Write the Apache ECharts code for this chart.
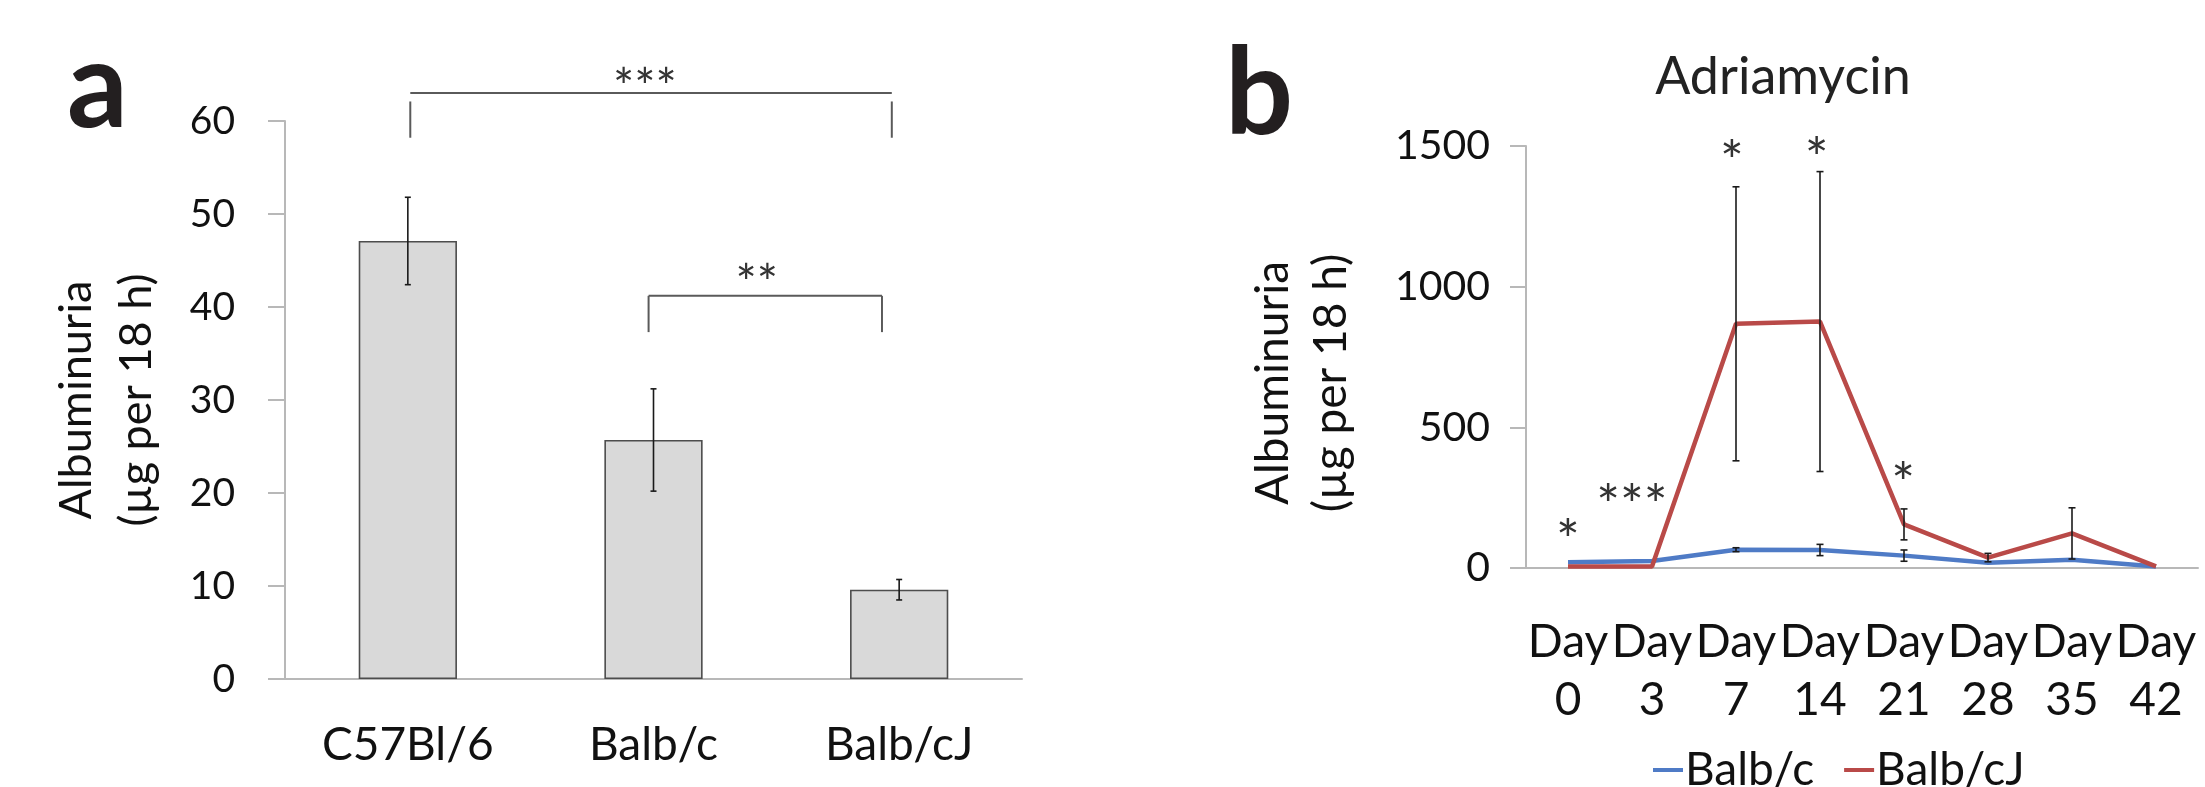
<!DOCTYPE html>
<html>
<head>
<meta charset="utf-8">
<script src="https://cdn.jsdelivr.net/npm/echarts@6/dist/echarts.min.js"></script>
<style>
  html, body { margin: 0; padding: 0; background: #fff; }
  #chart { width: 2205px; height: 787px; }
</style>
</head>
<body>
<div id="chart"></div>
<script>
// panel a: baseline albuminuria per strain
const strains = ['C57Bl/6', 'Balb/c', 'Balb/cJ'];
const strainMeans = [47.1, 25.7, 9.6];
const strainErrors = [4.7, 5.5, 1.1];

// significance brackets for panel a (category index, value)
const bracketFrom = [0.01, 0.98];
const bracketTo = [1.97, 1.93];
const bracketLevel = [63.0, 41.2];
const bracketLegTop = [62.1, 41.2];
const bracketLegBottom = [58.2, 37.3];
const bracketText = ['***', '**'];
const bracketTextX = [0.965, 1.42];
const bracketTextY = [64.9, 43.8];

// panel b: adriamycin time course
const days = ['Day\n0', 'Day\n3', 'Day\n7', 'Day\n14', 'Day\n21', 'Day\n28', 'Day\n35', 'Day\n42'];
const balbC = [20, 25, 65, 64, 44, 19, 29, 5];
const balbCErr = [0, 0, 7, 20, 20, 0, 0, 0];
const balbCJ = [5, 5, 868, 876, 155, 37, 123, 6];
const balbCJErr = [0, 0, 487, 533, 55, 15, 91, 0];

// asterisks for panel b (category index, value)
const starX = [0, 0.76, 1.95, 2.96, 3.99];
const starY = [147, 271, 1494, 1503, 349];
const starText = ['*', '***', '*', '*', '*'];

const FONT = 'Lato';
const chart = echarts.init(document.getElementById('chart'));

// pixel x for a fractional category index
const catX = (api, xv) => {
  const base = Math.floor(xv);
  return api.coord([base, 0])[0] + (xv - base) * api.size([1, 0])[0];
};

const errorBars = (means, errs, capHalf) => (params, api) => {
  const i = params.dataIndex;
  const e = errs[i];
  if (!e) return;
  const top = api.coord([i, means[i] + e]);
  const bot = api.coord([i, means[i] - e]);
  const st = { stroke: '#1a1a1a', lineWidth: 1.6 };
  return {
    type: 'group',
    children: [
      { type: 'line', shape: { x1: top[0], y1: top[1], x2: bot[0], y2: bot[1] }, style: st },
      { type: 'line', shape: { x1: top[0] - capHalf, y1: top[1], x2: top[0] + capHalf, y2: top[1] }, style: st },
      { type: 'line', shape: { x1: bot[0] - capHalf, y1: bot[1], x2: bot[0] + capHalf, y2: bot[1] }, style: st }
    ]
  };
};

const starLabel = (text, x, y, size) => ({
  type: 'text',
  x: x,
  y: y,
  style: { text: text, fill: '#333', font: size + 'px ' + FONT, align: 'center', verticalAlign: 'middle' }
});

const axisGray = '#b8b8b8';

const option = {
  animation: false,
  backgroundColor: '#fff',
  textStyle: { fontFamily: FONT },
  graphic: [
    { type: 'text', x: 67, y: 148, style: { text: 'a', font: 'bold 120px ' + FONT, fill: '#231f20', verticalAlign: 'bottom' } },
    { type: 'text', x: 1225, y: 155, style: { text: 'b', font: 'bold 120px ' + FONT, fill: '#231f20', verticalAlign: 'bottom' } },
    { type: 'text', x: 1783, y: 103, style: { text: 'Adriamycin', font: '52px ' + FONT, fill: '#222', align: 'center', verticalAlign: 'bottom' } }
  ],
  legend: {
    data: ['Balb/c', 'Balb/cJ'],
    left: 1648,
    top: 742,
    icon: 'rect',
    itemWidth: 30,
    itemHeight: 4,
    itemGap: 30,
    textStyle: { fontSize: 46, color: '#111', fontFamily: FONT, padding: [0, 0, 0, -3] }
  },
  grid: [
    { left: 285, top: 121, width: 737, height: 558 },
    { left: 1526, top: 146, width: 672, height: 422 }
  ],
  xAxis: [
    {
      type: 'category', gridIndex: 0, data: strains,
      axisLine: { lineStyle: { color: axisGray, width: 2 } },
      axisTick: { length: 16, lineStyle: { color: axisGray, width: 2 } },
      axisLabel: { interval: 0, fontSize: 46, color: '#111', margin: 38, lineHeight: 56 }
    },
    {
      type: 'category', gridIndex: 1, data: days,
      axisLine: { lineStyle: { color: axisGray, width: 2 } },
      axisTick: { length: 16, lineStyle: { color: axisGray, width: 2 } },
      axisLabel: { interval: 0, fontSize: 46, color: '#111', margin: 45, lineHeight: 58 }
    }
  ],
  yAxis: [
    {
      type: 'value', gridIndex: 0, min: 0, max: 60, interval: 10,
      name: 'Albuminuria\n(µg per 18 h)', nameLocation: 'middle', nameGap: 119, nameRotate: 90,
      nameTextStyle: { fontSize: 45, lineHeight: 60, color: '#111' },
      axisLine: { show: true, lineStyle: { color: axisGray, width: 2 } },
      axisTick: { show: true, length: 17, lineStyle: { color: axisGray, width: 2 } },
      splitLine: { show: false },
      axisLabel: { fontSize: 39, color: '#111', margin: 50 }
    },
    {
      type: 'value', gridIndex: 1, min: 0, max: 1500, interval: 500,
      name: 'Albuminuria\n(µg per 18 h)', nameLocation: 'middle', nameGap: 166, nameRotate: 90,
      nameTextStyle: { fontSize: 46, lineHeight: 58, color: '#111', padding: [0, 52, 0, 0] },
      axisLine: { show: true, lineStyle: { color: axisGray, width: 2 } },
      axisTick: { show: true, length: 16, lineStyle: { color: axisGray, width: 2 } },
      splitLine: { show: false },
      axisLabel: { fontSize: 41, color: '#111', margin: 36, formatter: (v) => String(v) }
    }
  ],
  series: [
    {
      name: 'Albuminuria', type: 'bar', xAxisIndex: 0, yAxisIndex: 0,
      data: strainMeans, barCategoryGap: '60%',
      itemStyle: { color: '#d9d9d9', borderColor: '#4d4d4d', borderWidth: 1.6 }
    },
    {
      type: 'custom', xAxisIndex: 0, yAxisIndex: 0, z: 5,
      data: strainMeans.map((m, i) => [i, m]),
      renderItem: errorBars(strainMeans, strainErrors, 3)
    },
    {
      type: 'custom', xAxisIndex: 0, yAxisIndex: 0, z: 5,
      data: bracketLevel.map((v, i) => [i, v]),
      renderItem: (params, api) => {
        const i = params.dataIndex;
        const xl = catX(api, bracketFrom[i]);
        const xr = catX(api, bracketTo[i]);
        const yh = api.coord([0, bracketLevel[i]])[1];
        const yt = api.coord([0, bracketLegTop[i]])[1];
        const yb = api.coord([0, bracketLegBottom[i]])[1];
        const st = { stroke: '#5a5a5a', lineWidth: 2 };
        return {
          type: 'group',
          children: [
            { type: 'line', shape: { x1: xl, y1: yh, x2: xr, y2: yh }, style: st },
            { type: 'line', shape: { x1: xl, y1: yt, x2: xl, y2: yb }, style: st },
            { type: 'line', shape: { x1: xr, y1: yt, x2: xr, y2: yb }, style: st },
            starLabel(bracketText[i], catX(api, bracketTextX[i]), api.coord([0, bracketTextY[i]])[1] + 13, 50)
          ]
        };
      }
    },
    {
      name: 'Balb/c', type: 'line', xAxisIndex: 1, yAxisIndex: 1,
      data: balbC, showSymbol: false, color: '#4f7bc6',
      lineStyle: { width: 4.5, color: '#4f7bc6' }
    },
    {
      name: 'Balb/cJ', type: 'line', xAxisIndex: 1, yAxisIndex: 1,
      data: balbCJ, showSymbol: false, color: '#b94a48',
      lineStyle: { width: 4.5, color: '#b94a48' }
    },
    {
      type: 'custom', xAxisIndex: 1, yAxisIndex: 1, z: 5,
      data: balbC.map((m, i) => [i, m]),
      renderItem: errorBars(balbC, balbCErr, 3.5)
    },
    {
      type: 'custom', xAxisIndex: 1, yAxisIndex: 1, z: 5,
      data: balbCJ.map((m, i) => [i, m]),
      renderItem: errorBars(balbCJ, balbCJErr, 3.5)
    },
    {
      type: 'custom', xAxisIndex: 1, yAxisIndex: 1, z: 5,
      data: starY.map((v, i) => [i, v]),
      renderItem: (params, api) => {
        const i = params.dataIndex;
        return starLabel(starText[i], catX(api, starX[i]), api.coord([0, starY[i]])[1] + 15, 56);
      }
    }
  ]
};

chart.setOption(option);
</script>
</body>
</html>
